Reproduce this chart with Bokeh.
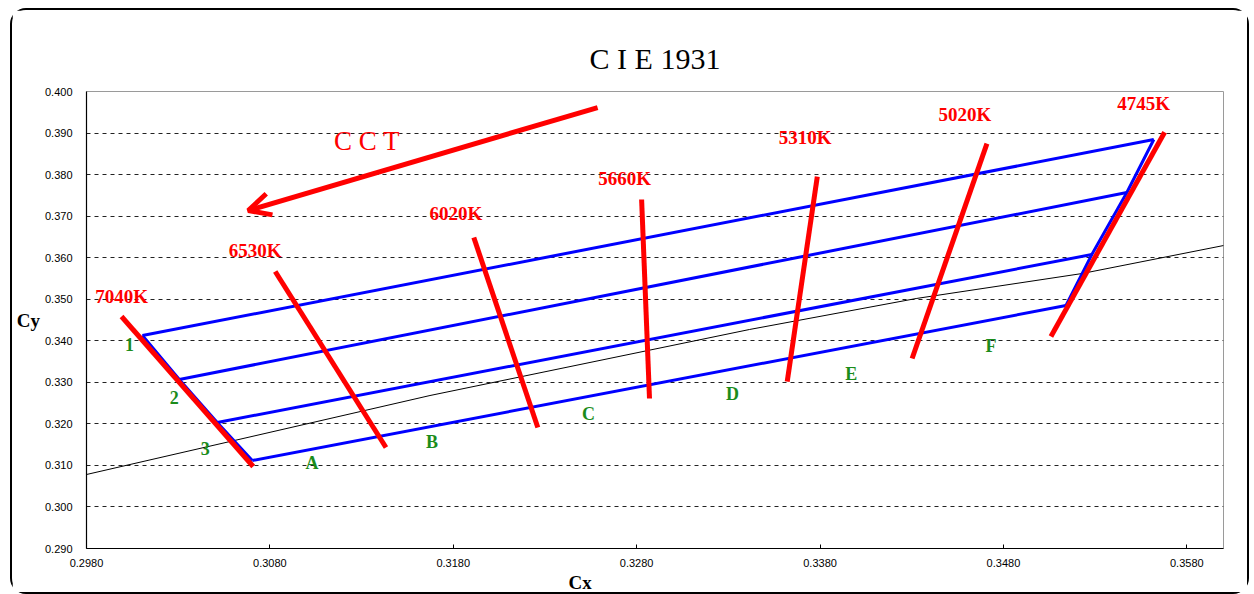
from bokeh.plotting import figure
from bokeh.models import Range1d, FixedTicker, Label, Arrow, OpenHead, Title
from bokeh.core.properties import value
from bokeh.embed import file_html
from bokeh.resources import INLINE

# ---------------- data ----------------
x_ticks = [0.298, 0.308, 0.318, 0.328, 0.338, 0.348, 0.358]
x_tick_labels = ["0.2980", "0.3080", "0.3180", "0.3280", "0.3380", "0.3480", "0.3580"]
y_ticks = [0.29, 0.30, 0.31, 0.32, 0.33, 0.34, 0.35, 0.36, 0.37, 0.38, 0.39, 0.40]
y_tick_labels = ["0.290", "0.300", "0.310", "0.320", "0.330", "0.340",
                 "0.350", "0.360", "0.370", "0.380", "0.390", "0.400"]

# black reference curve (Planckian locus)
locus_x = [0.2980, 0.31673, 0.33415, 0.34324, 0.35228, 0.36001]
locus_y = [0.30781, 0.32682, 0.34271, 0.35017, 0.35618, 0.36293]

# blue rows (1, 2, 3, A) : start / end points
row_names = ["1", "2", "3", "A"]
row_x_start = [0.30105, 0.30306, 0.30513, 0.30704]
row_y_start = [0.34126, 0.33067, 0.32033, 0.31118]
row_x_end = [0.35620, 0.35473, 0.35282, 0.35141]
row_y_end = [0.38844, 0.37568, 0.36076, 0.34848]

# red CCT iso-lines
cct_names = ["7040K", "6530K", "6020K", "5660K", "5310K", "5020K", "4745K"]
cct_x_top = [0.29991, 0.30829, 0.31912, 0.32827, 0.33785, 0.34710, 0.35679]
cct_y_top = [0.34584, 0.35667, 0.36485, 0.37400, 0.37953, 0.38747, 0.39020]
cct_x_bot = [0.30709, 0.31433, 0.32261, 0.32870, 0.33621, 0.34302, 0.35059]
cct_y_bot = [0.30974, 0.31431, 0.31912, 0.32610, 0.33019, 0.33573, 0.34102]
cct_label_x = [0.29991, 0.30720, 0.31814, 0.32734, 0.33719, 0.34590, 0.35565]
cct_label_y = [0.35065, 0.36172, 0.37063, 0.37905, 0.38892, 0.39445, 0.39710]

# green bin labels
bin_names = ["1", "2", "3", "A", "B", "C", "D", "E", "F"]
bin_x = [0.30034, 0.30279, 0.30448, 0.31030, 0.31684, 0.32538, 0.33322, 0.33970, 0.34732]
bin_y = [0.33910, 0.32634, 0.31407, 0.31070, 0.31575, 0.32249, 0.32730, 0.33212, 0.33886]

# CCT arrow (start -> end)
arrow_start = (0.32587, 0.39614)
arrow_end = (0.30682, 0.37135)
arrow_text_pos = (0.31330, 0.38820)

title_text = "C I E 1931"
xlabel_text = "Cx"
ylabel_text = "Cy"

# ---------------- figure ----------------
p = figure(frame_width=1137, frame_height=457,
           min_border_left=74, min_border_right=24, min_border_top=81, min_border_bottom=40,
           x_range=Range1d(0.298, 0.360), y_range=Range1d(0.29, 0.40),
           output_backend="svg", toolbar_location=None, tools="")
p.styles = {"border": "2px solid black", "border-radius": "16px",
            "margin-left": "10px", "margin-top": "8px"}
p.background_fill_color = "white"
p.border_fill_color = "white"
p.outline_line_color = "#9a9a9a"
p.outline_line_width = 1

p.xaxis.ticker = FixedTicker(ticks=x_ticks)
p.xaxis.major_label_overrides = dict(zip(x_ticks, x_tick_labels))
p.yaxis.ticker = FixedTicker(ticks=y_ticks)
p.yaxis.major_label_overrides = dict(zip(y_ticks, y_tick_labels))
for ax in (p.xaxis, p.yaxis):
    ax.axis_line_color = "black"
    ax.axis_line_width = 1.2
    ax.minor_tick_line_color = None
    ax.major_label_text_font = "Liberation Sans"
    ax.major_label_text_font_size = "11px"
    ax.major_label_text_color = "black"
p.xaxis.major_tick_in = 4
p.xaxis.major_tick_out = 0
p.xaxis.major_tick_line_color = "black"
p.xaxis.major_label_standoff = 10
p.yaxis.major_tick_in = 0
p.yaxis.major_tick_out = 0
p.yaxis.major_label_standoff = 14

p.yaxis.axis_label = ylabel_text
p.yaxis.axis_label_orientation = "horizontal"
p.yaxis.axis_label_standoff = 2
p.yaxis.axis_label_text_font = "Liberation Serif"
p.yaxis.axis_label_text_font_style = "bold"
p.yaxis.axis_label_text_font_size = "19px"
p.yaxis.axis_label_text_color = "black"

p.xgrid.grid_line_color = None
p.ygrid.grid_line_color = "#222222"
p.ygrid.grid_line_dash = "4 4"
p.ygrid.grid_line_width = 1

# title above, axis name below
p.add_layout(Title(text=title_text, align="center", text_font="Liberation Serif",
                   text_font_size="30px", text_font_style="normal", text_color="black",
                   standoff=33), "above")
p.add_layout(Title(text=xlabel_text, align="left", offset=482, text_font="Liberation Serif",
                   text_font_size="19px", text_font_style="bold", text_color="black",
                   standoff=0), "below")

# locus
p.line(locus_x, locus_y, line_color="black", line_width=1)

# blue rows
p.segment(x0=row_x_start, y0=row_y_start, x1=row_x_end, y1=row_y_end,
          line_color="#0000ff", line_width=3)
p.line(row_x_start, row_y_start, line_color="#0000ff", line_width=3)
p.line(row_x_end, row_y_end, line_color="#0000ff", line_width=3)

# red iso-CCT lines
p.segment(x0=cct_x_top, y0=cct_y_top, x1=cct_x_bot, y1=cct_y_bot,
          line_color="#ff0000", line_width=5)

# red CCT labels
p.text(x=cct_label_x, y=cct_label_y, text=cct_names, text_color="#ff0000",
       text_font=value("Liberation Serif"), text_font_style="bold",
       text_font_size="19px", text_align="center", text_baseline="middle")

# green bin labels
p.text(x=bin_x, y=bin_y, text=bin_names, text_color="#1b8c1b",
       text_font=value("Liberation Serif"), text_font_style="bold",
       text_font_size="18px", text_align="center", text_baseline="middle")

# arrow
p.add_layout(Arrow(end=OpenHead(size=22, line_color="#ff0000", line_width=5),
                   x_start=arrow_start[0], y_start=arrow_start[1],
                   x_end=arrow_end[0], y_end=arrow_end[1],
                   line_color="#ff0000", line_width=5))
p.add_layout(Label(x=arrow_text_pos[0], y=arrow_text_pos[1], text="C C T",
                   text_color="#ff0000", text_font="Liberation Serif",
                   text_font_size="27px", text_align="center", text_baseline="middle"))

open("out.html", "w").write(file_html(p, INLINE))
